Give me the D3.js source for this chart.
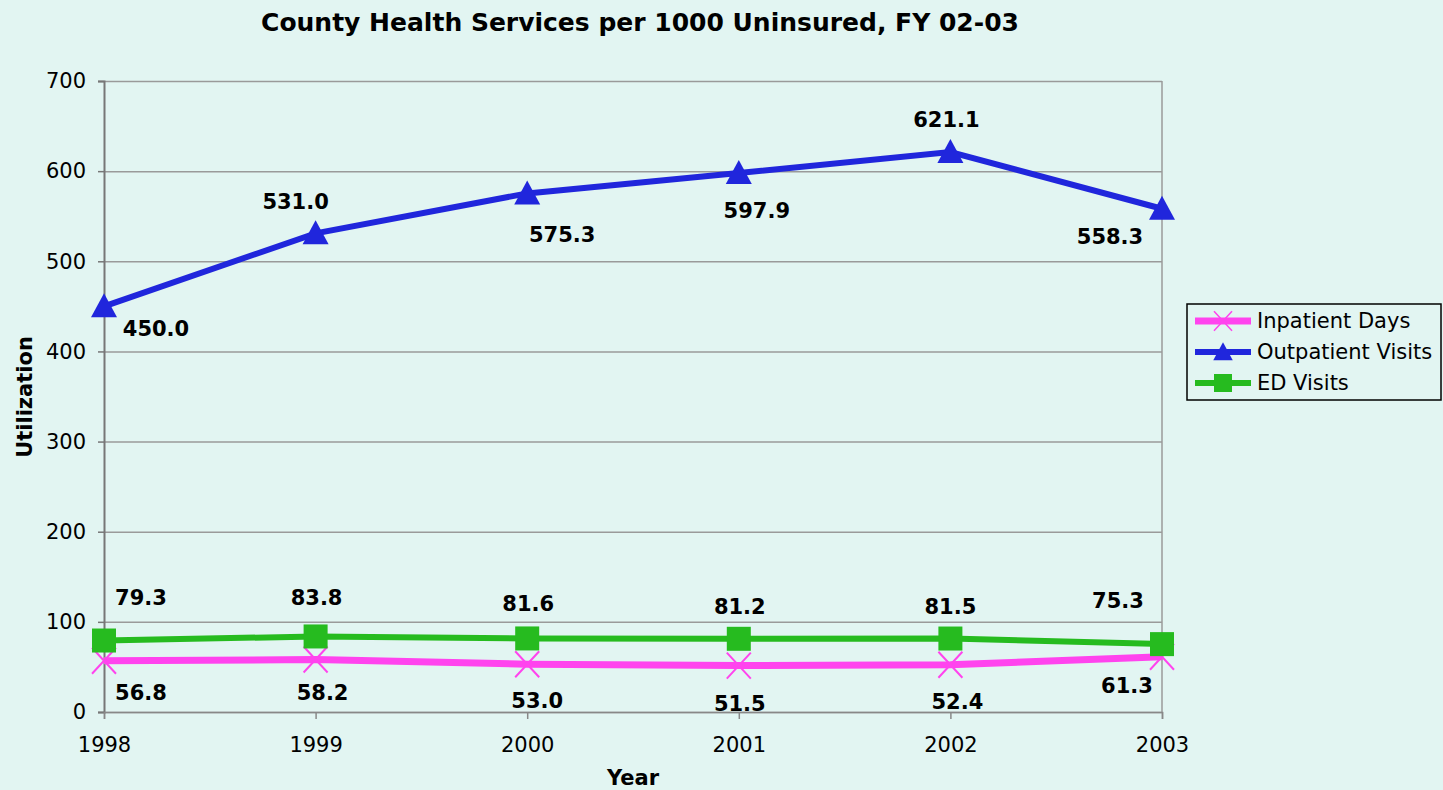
<!DOCTYPE html>
<html>
<head>
<meta charset="utf-8">
<script src="https://cdn.jsdelivr.net/npm/d3@7"></script>
<style>
  body { margin: 0; background: #e2f5f2; }
  svg { display: block; font-family: "DejaVu Sans", Verdana, sans-serif; }
</style>
</head>
<body>
<div id="chart"></div>
<script>
// data
var years = ["1998", "1999", "2000", "2001", "2002", "2003"]
var inpatientDays = [56.8, 58.2, 53.0, 51.5, 52.4, 61.3]
var outpatientVisits = [450.0, 531.0, 575.3, 597.9, 621.1, 558.3]
var edVisits = [79.3, 83.8, 81.6, 81.2, 81.5, 75.3]
var yTicks = [0, 100, 200, 300, 400, 500, 600, 700]

// where Excel put each value label, relative to its point
var inpatientLabelPos = [[37, 39], [7, 40], [10, 44], [1, 45], [7, 44], [-35, 36]]
var outpatientLabelPos = [[52, 30], [-20, -24], [35, 49], [18, 45], [-4, -25], [-52, 35]]
var edLabelPos = [[37, -36], [1, -31], [1, -27], [1, -25], [0, -25], [-44, -36]]

var fontFamily = '"DejaVu Sans", Verdana, sans-serif'
var width = 1443, height = 790
var margin = {top: 81, right: 281, bottom: 78, left: 104}

var svg = d3.select("#chart")
  .append("svg")
  .attr("width", width)
  .attr("height", height)

svg.append("rect")
  .attr("width", width)
  .attr("height", height)
  .attr("fill", "#e2f5f2")

var xScale = d3.scalePoint()
  .domain(years)
  .range([margin.left, width - margin.right])

var yScale = d3.scaleLinear()
  .domain([0, 700])
  .range([height - margin.bottom, margin.top])

// grid
var yGrid = d3.axisLeft(yScale)
  .tickValues(yTicks)
  .tickSize(-(width - margin.right - margin.left))
  .tickFormat("")

svg.append("g")
  .attr("transform", `translate(${margin.left},0)`)
  .call(yGrid)
  .call(g => g.select(".domain").remove())
  .selectAll("line")
  .attr("stroke", "#9a9a9a")
  .attr("stroke-width", 1.5)

// right border of plot area
svg.append("line")
  .attr("x1", width - margin.right).attr("x2", width - margin.right)
  .attr("y1", margin.top).attr("y2", height - margin.bottom)
  .attr("stroke", "#9a9a9a")
  .attr("stroke-width", 1.5)

// Y axis
var yAxis = d3.axisLeft(yScale)
  .tickValues(yTicks)
  .tickSize(6)
  .tickPadding(12)

svg.append("g")
  .attr("transform", `translate(${margin.left},0)`)
  .call(yAxis)
  .attr("font-family", fontFamily)
  .attr("font-size", 21)
  .call(g => g.select(".domain").attr("stroke", "#777").attr("stroke-width", 2))
  .call(g => g.selectAll(".tick line").attr("stroke", "#777").attr("stroke-width", 1.5))
  .selectAll("text")
  .attr("fill", "#000")

// X axis
var xAxis = d3.axisBottom(xScale)
  .tickSize(7)
  .tickPadding(18)

svg.append("g")
  .attr("transform", `translate(0,${height - margin.bottom})`)
  .call(xAxis)
  .attr("font-family", fontFamily)
  .attr("font-size", 21)
  .call(g => g.select(".domain").attr("stroke", "#888").attr("stroke-width", 1.5))
  .call(g => g.selectAll(".tick line").attr("stroke", "#888").attr("stroke-width", 1.5))
  .selectAll("text")
  .attr("fill", "#000")

// titles
svg.append("text")
  .attr("x", 640)
  .attr("y", 31)
  .attr("text-anchor", "middle")
  .attr("font-size", "25px")
  .attr("font-weight", "bold")
  .text("County Health Services per 1000 Uninsured, FY 02-03")

svg.append("text")
  .attr("transform", "translate(32,397) rotate(-90)")
  .attr("text-anchor", "middle")
  .attr("font-size", "21px")
  .attr("font-weight", "bold")
  .text("Utilization")

svg.append("text")
  .attr("x", 633)
  .attr("y", 785)
  .attr("text-anchor", "middle")
  .attr("font-size", "21px")
  .attr("font-weight", "bold")
  .text("Year")

var series = [
  {name: "Inpatient Days", values: inpatientDays, color: "#ff44ee", width: 7, marker: "x", labels: inpatientLabelPos},
  {name: "Outpatient Visits", values: outpatientVisits, color: "#2026dc", width: 6, marker: "triangle", labels: outpatientLabelPos},
  {name: "ED Visits", values: edVisits, color: "#26bb1f", width: 6, marker: "square", labels: edLabelPos}
]

var line = d3.line()
  .x((d, i) => xScale(years[i]))
  .y(d => yScale(d))

function drawMarker(g, type, color) {
  if (type === "triangle") {
    g.append("path")
      .attr("d", "M0,-13 L13,11 L-13,11 Z")
      .attr("fill", color)
  } else if (type === "square") {
    g.append("rect")
      .attr("x", -12).attr("y", -12)
      .attr("width", 24).attr("height", 24)
      .attr("fill", color)
  } else {
    g.append("path")
      .attr("d", "M-12,-13 L12,13 M-12,13 L12,-13")
      .attr("stroke", color)
      .attr("stroke-width", 2)
  }
}

series.forEach(s => {
  svg.append("path")
    .datum(s.values)
    .attr("d", line)
    .attr("fill", "none")
    .attr("stroke", s.color)
    .attr("stroke-width", s.width)

  s.values.forEach((v, i) => {
    var g = svg.append("g")
      .attr("transform", `translate(${xScale(years[i])},${yScale(v)})`)
    drawMarker(g, s.marker, s.color)
  })
})

// value labels on top
series.forEach(s => {
  svg.selectAll(null)
    .data(s.values)
    .enter()
    .append("text")
    .attr("x", (d, i) => xScale(years[i]) + s.labels[i][0])
    .attr("y", (d, i) => yScale(d) + s.labels[i][1])
    .attr("text-anchor", "middle")
    .attr("font-size", "21px")
    .attr("font-weight", "bold")
    .text(d => d.toFixed(1))
})

// legend
var legend = svg.append("g")
  .attr("transform", "translate(1187,304)")

legend.append("rect")
  .attr("width", 254)
  .attr("height", 96)
  .attr("fill", "#e2f5f2")
  .attr("stroke", "#000")
  .attr("stroke-width", 1.5)

series.forEach((s, i) => {
  var row = legend.append("g")
    .attr("transform", `translate(0,${17 + i * 31})`)
  row.append("line")
    .attr("x1", 8).attr("x2", 64)
    .attr("stroke", s.color)
    .attr("stroke-width", s.width)
  var m = row.append("g").attr("transform", "translate(36,0) scale(0.75)")
  drawMarker(m, s.marker, s.color)
  row.append("text")
    .attr("x", 70)
    .attr("y", 7)
    .attr("font-size", "21px")
    .text(s.name)
})
</script>
</body>
</html>
